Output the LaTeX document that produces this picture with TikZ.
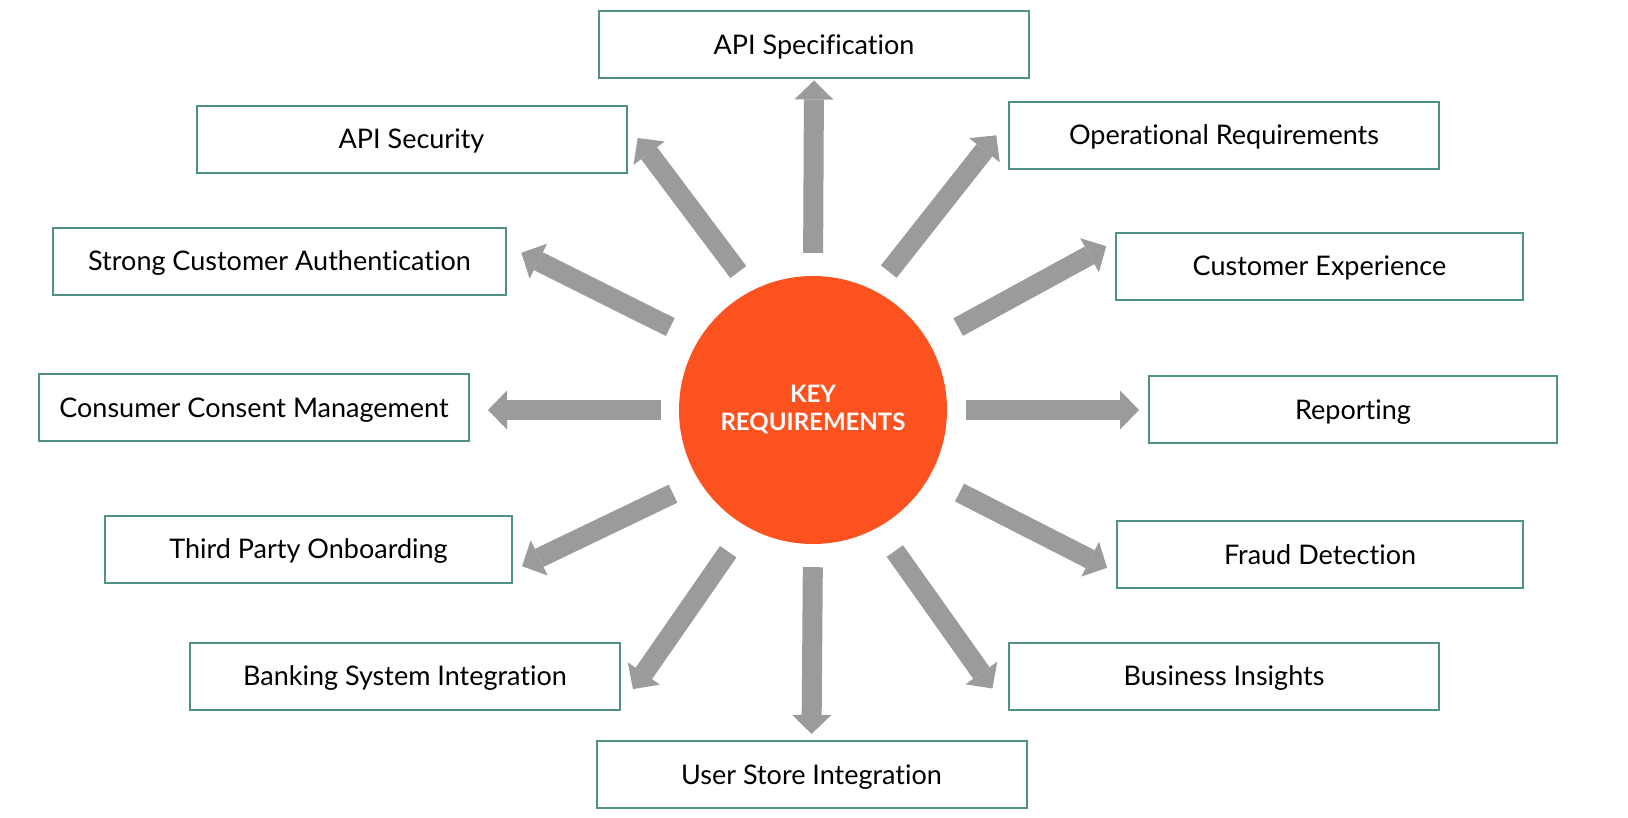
\documentclass[tikz,border=0pt]{standalone}
\usepackage{fontspec}
\setmainfont{Lato}[Ligatures=NoCommon]
\usepackage{xcolor}
\usetikzlibrary{arrows.meta}
\definecolor{boxteal}{HTML}{4F9185}
\definecolor{hubred}{HTML}{FC5220}
\definecolor{arrowgray}{HTML}{9B9B9B}

\begin{document}
\begin{tikzpicture}[
    x=1pt, y=-1pt,
    reqbox/.style={rectangle, draw=boxteal, line width=2pt, fill=white, minimum width=430pt, minimum height=67pt, inner sep=0pt, text height=19pt, text depth=0pt, font=\fontsize{27}{30}\selectfont},
    hub/.style={circle, fill=hubred, minimum size=268pt, inner sep=0pt, align=center, text=white, font=\fontsize{24}{28}\selectfont\bfseries},
    arrow/.style={-{Triangle[length=19pt, width=39pt, line width=0pt]}, line width=20pt, arrowgray}
]

\useasboundingbox (0,0) rectangle (1628,818);

\node[hub] (key) at (813,410) {KEY\\REQUIREMENTS};

\node[reqbox] (spec) at (814,45) {API Specification};
\node[reqbox] (sec) at (411.5,139.5) {API Security};
\node[reqbox] (ops) at (1224,135.5) {Operational Requirements};
\node[reqbox, minimum width=453pt] (sca) at (279.5,261.5) {Strong Customer Authentication};
\node[reqbox, minimum width=407pt] (cx) at (1319.5,266.5) {Customer Experience};
\node[reqbox] (ccm) at (254,407.5) {Consumer Consent Management};
\node[reqbox, minimum width=408pt] (rep) at (1353,409.5) {Reporting};
\node[reqbox, minimum width=407pt] (tpo) at (308.5,549) {Third Party Onboarding};
\node[reqbox, minimum width=406pt] (fraud) at (1320,554.5) {Fraud Detection};
\node[reqbox] (bank) at (405,676) {Banking System Integration};
\node[reqbox] (biz) at (1224,676) {Business Insights};
\node[reqbox] (usi) at (811.5,774.5) {User Store Integration};

\draw[arrow, shorten <=23pt, shorten >=1pt] (key.north) -- (spec.south);
\draw[arrow, shorten <=23pt, shorten >=17pt] (key.117) -- (sec.4);
\draw[arrow, shorten <=24pt, shorten >=19pt] (key.63) -- (ops.176);
\draw[arrow, shorten <=31pt, shorten >=16pt] (key.149) -- (sca.4);
\draw[arrow, shorten <=33pt, shorten >=10pt] (key.30) -- (cx.173);
\draw[arrow, shorten <=18pt, shorten >=18pt] (key.west) -- (ccm.east |- key.west);
\draw[arrow, shorten <=19pt, shorten >=9pt] (key.east) -- (rep.west |- key.east);
\draw[arrow, shorten <=29pt, shorten >=10pt] (key.212) -- (tpo.354);
\draw[arrow, shorten <=34pt, shorten >=10pt] (key.330) -- (fraud.185);
\draw[arrow, shorten <=31pt, shorten >=21pt] (key.240) -- (bank.352);
\draw[arrow, shorten <=23pt, shorten >=6pt] (key.south) -- (usi.north);
\draw[arrow, shorten <=29pt, shorten >=27pt] (key.299) -- (biz.south west);

\end{tikzpicture}
\end{document}
